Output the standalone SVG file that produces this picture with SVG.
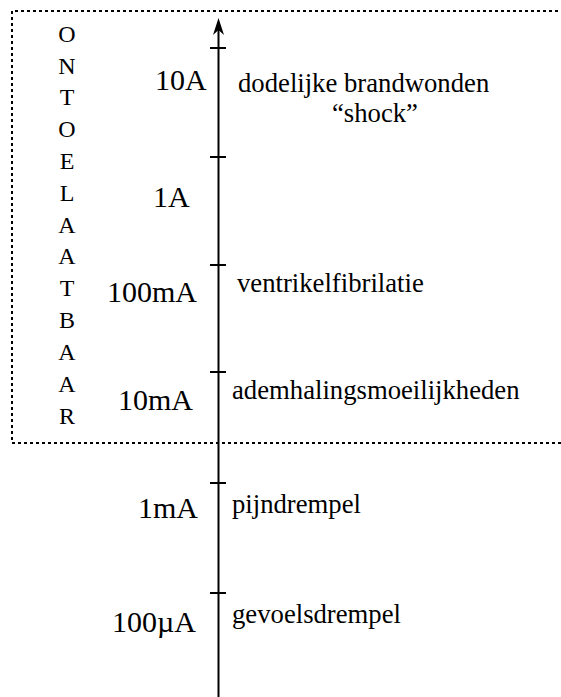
<svg xmlns="http://www.w3.org/2000/svg" width="561" height="697" viewBox="0 0 561 697">
<style>
text{font-family:"Liberation Serif","Times New Roman",serif;fill:#000}
.v{font-size:24px;text-anchor:middle}
.l{font-size:30px}
.r{font-size:26.7px}
.tick{stroke:#000;stroke-width:2}
.dot{fill:none;stroke:#000;stroke-width:2;stroke-dasharray:3 3}
</style>
<rect width="561" height="697" fill="#fff"/>
<g id="zone">
<path class="dot" d="M570,11 H12 V443 H570"/>
<text class="v" x="67" y="42">O</text>
<text class="v" x="67" y="74">N</text>
<text class="v" x="67" y="105">T</text>
<text class="v" x="67" y="137">O</text>
<text class="v" x="67" y="169">E</text>
<text class="v" x="67" y="201">L</text>
<text class="v" x="67" y="233">A</text>
<text class="v" x="67" y="264">A</text>
<text class="v" x="67" y="296">T</text>
<text class="v" x="67" y="328">B</text>
<text class="v" x="67" y="360">A</text>
<text class="v" x="67" y="392">A</text>
<text class="v" x="67" y="424">R</text>
</g>
<g id="connectors">
<line class="tick" x1="218.5" y1="26" x2="218.5" y2="697"/>
<path d="M213,35 L218.5,18 L224,35 L218.5,30 Z" fill="#000"/>
</g>
<g id="t10A">
<line class="tick" x1="210" y1="48" x2="226" y2="48"/>
<text class="l" x="155" y="90">10A</text>
<text class="r" x="238" y="92">dodelijke brandwonden</text>
<text class="r" x="332" y="122">“shock”</text>
</g>
<g id="t1A">
<line class="tick" x1="210" y1="157" x2="226" y2="157"/>
<text class="l" x="153" y="207">1A</text>
</g>
<g id="t100mA">
<line class="tick" x1="210" y1="265" x2="226" y2="265"/>
<text class="l" x="107" y="302">100mA</text>
<text class="r" x="237" y="292">ventrikelfibrilatie</text>
</g>
<g id="t10mA">
<line class="tick" x1="210" y1="372" x2="226" y2="372"/>
<text class="l" x="118" y="410">10mA</text>
<text class="r" x="232" y="399">ademhalingsmoeilijkheden</text>
</g>
<g id="t1mA">
<line class="tick" x1="210" y1="483" x2="226" y2="483"/>
<text class="l" x="138" y="518">1mA</text>
<text class="r" x="232" y="513">pijndrempel</text>
</g>
<g id="t100uA">
<line class="tick" x1="210" y1="593" x2="226" y2="593"/>
<text class="l" x="112" y="632">100µA</text>
<text class="r" x="232" y="623">gevoelsdrempel</text>
</g>
</svg>
